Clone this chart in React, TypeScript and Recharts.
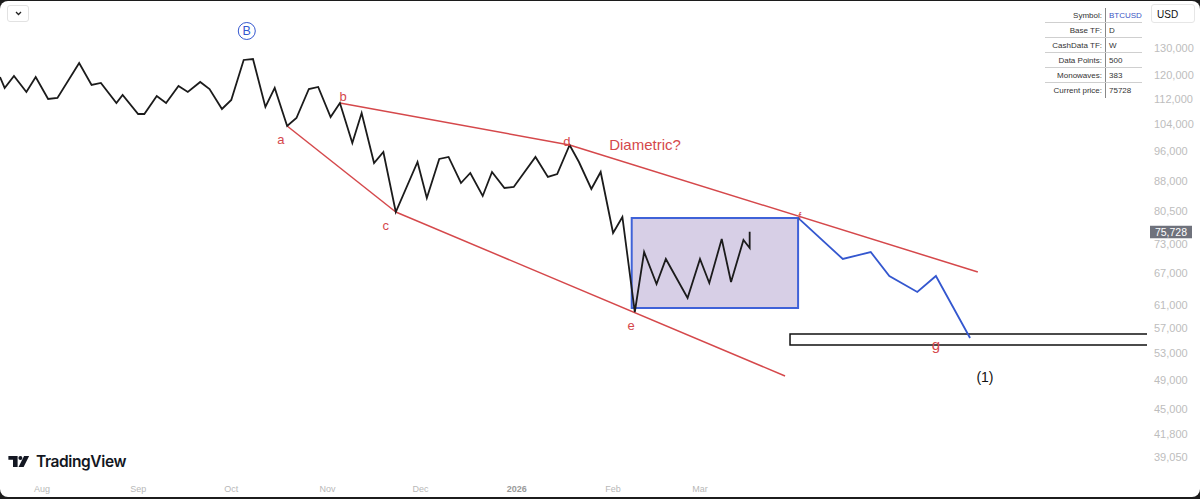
import {
  ComposedChart,
  Line,
  XAxis,
  YAxis,
  ReferenceArea,
  ReferenceLine,
  ReferenceDot,
} from "recharts";

// days counted from 1 Aug 2025
const priceDays = [
  -13.5, -12, -9, -5, -2, 2, 5, 12, 16, 19, 24, 26, 31, 33, 37, 40, 44, 47, 51,
  54, 58, 61, 65, 68, 72, 75, 79, 82, 86, 89, 93, 96, 100, 103, 107, 110, 114,
  121, 124, 128, 131, 135, 138, 142, 145, 149, 152, 159, 163, 166, 170, 173,
  177, 180, 184, 187, 191, 194, 198, 201, 208, 212, 215, 219, 222, 226, 228,
  228,
];
const priceValues = [
  119370, 115580, 119730, 114220, 119370, 111890, 112220, 124400, 116600,
  117290, 110580, 113220, 107070, 107070, 112890, 110580, 116260, 114220,
  117630, 115230, 108650, 111580, 125500, 125860, 109290, 115580, 103350,
  105810, 115230, 115920, 106130, 110580, 98310, 107380, 92700, 95750, 80260,
  92970, 83630, 93800, 94360, 87400, 90010, 84130, 90290, 86130, 86390, 94360,
  88970, 89750, 97750, 92970, 85880, 90290, 75450, 79090, 59810, 71350, 64950,
  69900, 62330, 69900, 65140, 74140, 65330, 73920, 72200, 75728,
];

const projDays = [243.6, 258, 267, 273, 282, 288, 299];
const projValues = [78900, 69900, 71350, 66500, 63440, 66500, 55410];

const lineAC = [
  { x: 79, y: 103350 },
  { x: 114, y: 80260 },
];
const lineCE = [
  { x: 114, y: 80260 },
  { x: 239.4, y: 49550 },
];
const lineBD = [
  { x: 96, y: 110580 },
  { x: 170, y: 97750 },
];
const lineDF = [
  { x: 170, y: 97750 },
  { x: 301.5, y: 67280 },
];

const boxDays = [190, 243.6];
const boxPrices = [60525, 78860];
const targetDays = [241, 370];
const targetPrices = [54282, 56066];

const currentPrice = 75728;

const monthTicks = [0, 31, 61, 92, 122, 153, 184, 212];
const monthLabels = ["Aug", "Sep", "Oct", "Nov", "Dec", "2026", "Feb", "Mar"];
const priceTicks = [
  130000, 120000, 112000, 104000, 96000, 88000, 80500, 73000, 67000, 61000,
  57000, 53000, 49000, 45000, 41800, 39050,
];

const labelTexts = ["a", "b", "c", "d", "Diametric?", "e", "f", "g", "(1)"];
const labelDays = [77, 97, 110.8, 169.1, 194.3, 189.8, 244.2, 288, 303.8];
const labelPrices = [99480, 112890, 77250, 98890, 97750, 57575, 79320, 54282, 49410];
const labelSizes = [13, 13, 13, 13, 15, 13, 10, 15, 14];

const waveB = { day: 66, price: 136660 };

const tableLabels = ["Symbol:", "Base TF:", "CashData TF:", "Data Points:", "Monowaves:", "Current price:"];
const tableValues = ["BTCUSD", "D", "W", "500", "383", "75728"];

const RED = "#d5484b";
const BLUE = "#3457cf";
const FONT = "'Liberation Sans', Arial, sans-serif";

const priceData = priceDays.map((d, i) => ({ day: d, price: priceValues[i] }));
const projData = projDays.map((d, i) => ({ day: d, price: projValues[i] }));

function MonthTick(props: any) {
  const { x, y, payload } = props;
  const idx = monthTicks.indexOf(payload.value);
  const isYear = monthLabels[idx] === "2026";
  return (
    <text
      x={x}
      y={y + 18}
      textAnchor="middle"
      fontSize={9}
      fontFamily={FONT}
      fill={isYear ? "#9a9a9a" : "#b8b8b8"}
      fontWeight={isYear ? 700 : 400}
    >
      {monthLabels[idx]}
    </text>
  );
}

function TvLogo() {
  return (
    <div
      style={{
        position: "absolute",
        left: 8,
        top: 452,
        display: "flex",
        alignItems: "center",
        gap: 6,
      }}
    >
      <svg width="22" height="12" viewBox="0 0 23 13">
        <path d="M0 0 H10 V12 H5 V4 H0 Z" fill="#131722" />
        <circle cx="13" cy="2.2" r="2.2" fill="#131722" />
        <path d="M17 0 H22.5 L16.5 12 H11 Z" fill="#131722" />
      </svg>
      <span
        style={{
          fontFamily: "Inter, 'Liberation Sans', sans-serif",
          fontWeight: 600,
          fontSize: 15.5,
          color: "#131722",
          letterSpacing: -0.4,
        }}
      >
        TradingView
      </span>
    </div>
  );
}

export default function App() {
  return (
    <div
      style={{
        position: "absolute",
        left: 0,
        top: 0,
        width: 1200,
        height: 499,
        background: "#1c1c1c",
        overflow: "hidden",
      }}
    >
      <div
        style={{
          position: "absolute",
          left: 0,
          top: 1,
          width: 1200,
          height: 496,
          background: "#fff",
          borderRadius: 8,
        }}
      />
      <div style={{ position: "absolute", left: 0, top: 0 }}>
        <ComposedChart
          width={1200}
          height={499}
          margin={{ top: 0, right: 0, bottom: 0, left: 0 }}
        >
          <XAxis
            type="number"
            dataKey="day"
            domain={[-13.5, 356]}
            allowDataOverflow
            ticks={monthTicks}
            tick={<MonthTick />}
            tickLine={false}
            axisLine={false}
            tickSize={0}
            height={27}
          />
          <YAxis
            orientation="right"
            scale="log"
            domain={[37365, 149700]}
            allowDataOverflow
            ticks={priceTicks}
            tickFormatter={(v) => v.toLocaleString("en-US")}
            tick={{ fill: "#bdbdbd", fontSize: 11, fontFamily: FONT }}
            tickLine={false}
            axisLine={false}
            tickSize={0}
            tickMargin={7}
            width={53}
            interval={0}
          />
          <ReferenceArea
            x1={boxDays[0]}
            x2={boxDays[1]}
            y1={boxPrices[0]}
            y2={boxPrices[1]}
            fill="#d7cfe6"
            fillOpacity={1}
            stroke="#3f62d8"
            strokeWidth={2}
          />
          <ReferenceArea
            x1={targetDays[0]}
            x2={targetDays[1]}
            y1={targetPrices[0]}
            y2={targetPrices[1]}
            fill="#fff"
            fillOpacity={1}
            stroke="#111"
            strokeWidth={1.5}
            ifOverflow="hidden"
          />
          <ReferenceLine segment={lineAC} stroke={RED} strokeWidth={1.5} />
          <ReferenceLine segment={lineCE} stroke={RED} strokeWidth={1.5} />
          <ReferenceLine segment={lineBD} stroke={RED} strokeWidth={1.5} />
          <ReferenceLine segment={lineDF} stroke={RED} strokeWidth={1.5} />
          <Line
            data={priceData}
            dataKey="price"
            type="linear"
            stroke="#1b1b1b"
            strokeWidth={1.8}
            dot={false}
            activeDot={false}
            isAnimationActive={false}
          />
          <Line
            data={projData}
            dataKey="price"
            type="linear"
            stroke={BLUE}
            strokeWidth={1.8}
            dot={false}
            activeDot={false}
            isAnimationActive={false}
          />
          {labelTexts.map((t, i) => (
            <ReferenceDot
              key={t}
              x={labelDays[i]}
              y={labelPrices[i]}
              r={0}
              fill="none"
              stroke="none"
              label={{
                value: t,
                position: "center",
                fill: t === "(1)" ? "#111" : RED,
                fontSize: labelSizes[i],
                fontFamily: FONT,
              }}
            />
          ))}
          <ReferenceDot
            x={waveB.day}
            y={waveB.price}
            r={0}
            shape={(p: any) => (
              <g>
                <circle cx={p.cx} cy={p.cy} r={8.5} fill="none" stroke={BLUE} strokeWidth={1} />
                <text
                  x={p.cx}
                  y={p.cy + 4.5}
                  textAnchor="middle"
                  fontSize={12.5}
                  fontFamily={FONT}
                  fill={BLUE}
                >
                  B
                </text>
              </g>
            )}
          />
          <ReferenceLine
            y={currentPrice}
            stroke="transparent"
            label={(p: any) => {
              const vb = p.viewBox;
              const x0 = vb.x + vb.width + 3;
              return (
                <g>
                  <rect x={x0} y={vb.y - 6} width={42} height={12.5} fill="#6f727c" />
                  <text
                    x={x0 + 21}
                    y={vb.y + 4}
                    textAnchor="middle"
                    fontSize={10.5}
                    fontFamily={FONT}
                    fill="#fff"
                  >
                    {currentPrice.toLocaleString("en-US")}
                  </text>
                </g>
              );
            }}
          />
        </ComposedChart>
      </div>

      {/* top-left toggle */}
      <div
        style={{
          position: "absolute",
          left: 7,
          top: 5,
          width: 20,
          height: 15,
          border: "1px solid #e2e2e2",
          borderRadius: 3,
          background: "#fff",
          display: "flex",
          alignItems: "center",
          justifyContent: "center",
        }}
      >
        <svg width="7" height="5" viewBox="0 0 7 5">
          <path d="M1 1 L3.5 3.5 L6 1" stroke="#222" strokeWidth="1.3" fill="none" />
        </svg>
      </div>

      {/* currency box */}
      <div
        style={{
          position: "absolute",
          left: 1151,
          top: 4,
          width: 44,
          height: 19,
          border: "1px solid #e6e6e6",
          borderRadius: 3,
          background: "#fff",
          fontFamily: FONT,
          fontSize: 10,
          color: "#111",
          lineHeight: "19px",
          paddingLeft: 5,
          boxSizing: "border-box",
        }}
      >
        USD
      </div>

      {/* info table */}
      <div
        style={{
          position: "absolute",
          left: 1045,
          top: 8,
          width: 97,
          background: "#fff",
          fontFamily: FONT,
          fontSize: 8,
        }}
      >
        {tableLabels.map((l, i) => (
          <div
            key={l}
            style={{
              display: "flex",
              height: 15,
              lineHeight: "15px",
              borderBottom: i < tableLabels.length - 1 ? "1px solid #cfcfcf" : "none",
              boxSizing: "border-box",
            }}
          >
            <div style={{ width: 57, textAlign: "right", paddingRight: 3, color: "#333", whiteSpace: "nowrap" }}>{l}</div>
            <div
              style={{
                borderLeft: "1px solid #888",
                paddingLeft: 3,
                color: i === 0 ? "#3a55c4" : "#333",
              }}
            >
              {tableValues[i]}
            </div>
          </div>
        ))}
      </div>

      <TvLogo />
    </div>
  );
}
